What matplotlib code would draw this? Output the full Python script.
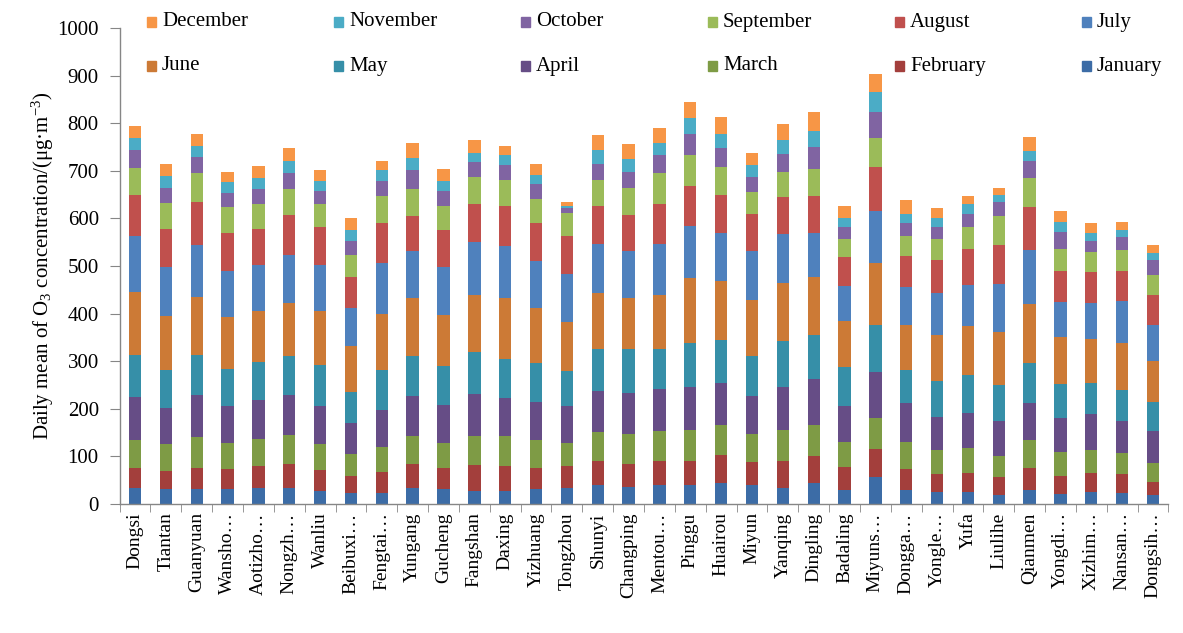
import numpy as np
import matplotlib
matplotlib.use('Agg')
import matplotlib.pyplot as plt
from matplotlib.patches import Rectangle

plt.rcParams['font.family'] = ['Liberation Serif', 'DejaVu Serif']
plt.rcParams['mathtext.fontset'] = 'custom'
plt.rcParams['mathtext.rm'] = 'Liberation Serif'
plt.rcParams['mathtext.it'] = 'Liberation Serif:italic'

# ── Data (monthly mean O3 per station, stacked) ──────────────────────────────
stations = ['Dongsi', 'Tiantan', 'Guanyuan', 'Wansho…', 'Aotizho…', 'Nongzh…',
            'Wanliu', 'Beibuxi…', 'Fengtai…', 'Yungang', 'Gucheng', 'Fangshan',
            'Daxing', 'Yizhuang', 'Tongzhou', 'Shunyi', 'Changping', 'Mentou…',
            'Pinggu', 'Huairou', 'Miyun', 'Yanqing', 'Dingling', 'Badaling',
            'Miyuns…', 'Dongga…', 'Yongle…', 'Yufa', 'Liulihe', 'Qianmen',
            'Yongdi…', 'Xizhim…', 'Nansan…', 'Dongsih…']

jan = [33, 31, 31, 31, 34, 34, 27, 24, 24, 34, 31, 27, 27, 31, 34, 39, 36,
       39, 39, 44, 39, 34, 44, 30, 56, 30, 25, 25, 19, 30, 22, 25, 23, 18]
feb = [43, 39, 45, 43, 45, 51, 44, 35, 44, 51, 45, 55, 52, 45, 45, 52, 49,
       52, 52, 58, 49, 57, 56, 47, 60, 44, 37, 40, 37, 46, 37, 40, 41, 29]
mar = [58, 56, 64, 54, 58, 60, 55, 47, 52, 58, 52, 61, 64, 58, 49, 60, 61,
       63, 65, 64, 58, 65, 66, 54, 64, 57, 52, 52, 44, 58, 50, 49, 44, 39]
apr = [90, 75, 89, 78, 81, 84, 80, 65, 78, 83, 81, 89, 80, 81, 78, 87, 88,
       87, 90, 89, 80, 90, 97, 75, 98, 81, 69, 75, 75, 78, 72, 75, 66, 67]
may = [89, 81, 84, 78, 81, 81, 85, 64, 84, 84, 81, 87, 82, 81, 73, 87, 91,
       84, 93, 90, 84, 96, 93, 81, 98, 69, 76, 78, 75, 84, 72, 66, 66, 61]
jun = [133, 112, 121, 108, 107, 112, 115, 96, 118, 122, 107, 121, 127, 115, 103, 118, 107,
       115, 135, 123, 118, 123, 120, 98, 131, 96, 97, 104, 112, 124, 98, 92, 98, 86]
jul = [118, 104, 110, 98, 97, 102, 97, 80, 107, 99, 101, 110, 110, 99, 102, 104, 99,
       107, 110, 101, 103, 102, 93, 73, 109, 78, 87, 86, 101, 113, 74, 75, 89, 77]
aug = [86, 80, 91, 80, 75, 83, 78, 65, 83, 74, 78, 80, 85, 80, 80, 80, 76,
       83, 85, 81, 79, 77, 78, 60, 91, 66, 69, 75, 81, 91, 65, 65, 63, 61]
sep = [56, 55, 60, 54, 52, 54, 49, 48, 57, 56, 51, 57, 54, 51, 48, 54, 57,
       65, 64, 57, 46, 54, 57, 38, 62, 42, 44, 46, 60, 60, 45, 43, 44, 43]
oct_ = [38, 31, 35, 29, 31, 34, 28, 29, 31, 40, 31, 31, 31, 32, 9, 34, 34,
        38, 45, 40, 31, 37, 46, 25, 55, 27, 25, 29, 31, 37, 37, 23, 26, 32]
nov = [25, 26, 23, 23, 24, 26, 20, 23, 23, 26, 20, 20, 21, 19, 6, 29, 26,
       25, 32, 31, 25, 29, 34, 20, 41, 20, 20, 20, 15, 20, 21, 16, 16, 15]
dec = [26, 25, 25, 22, 25, 26, 23, 25, 20, 31, 26, 27, 20, 23, 8, 32, 32,
       32, 34, 34, 26, 34, 40, 26, 39, 28, 21, 17, 14, 31, 22, 21, 17, 17]

months = ['January', 'February', 'March', 'April', 'May', 'June', 'July',
          'August', 'September', 'October', 'November', 'December']
series = [jan, feb, mar, apr, may, jun, jul, aug, sep, oct_, nov, dec]
colors = ['#3C6CA6', '#A33F3C', '#7E9B45', '#664D86', '#368FA8', '#CC7A36',
          '#4F81BD', '#C0504D', '#9BBB59', '#8064A2', '#4BACC6', '#F79646']

# ── Figure ────────────────────────────────────────────────────────────────────
W, H = 1183, 633
fig = plt.figure(figsize=(W / 100, H / 100), dpi=100)
ax = fig.add_axes([0.1011, 0.2038, 0.8866, 0.752])

x = np.arange(len(stations))
bottom = np.zeros(len(stations))
for vals, col in zip(series, colors):
    ax.bar(x, vals, 0.40, bottom=bottom, color=col, linewidth=0)
    bottom += np.array(vals)

ax.set_xlim(-0.5, len(stations) - 0.5)
ax.set_ylim(0, 1000)
ax.set_yticks(range(0, 1001, 100))

for s in ['top', 'right']:
    ax.spines[s].set_visible(False)
for s in ['left', 'bottom']:
    ax.spines[s].set_color('#868686')
    ax.spines[s].set_linewidth(1.0)

ax.tick_params(axis='y', direction='out', length=7, color='#868686',
               labelsize=15, pad=8)
ax.set_xticks(x)
ax.set_xticklabels(stations, rotation=90, fontsize=14)
ax.set_xticks(np.arange(-0.5, len(stations), 1), minor=True)
ax.tick_params(axis='x', which='major', length=0, pad=6)
ax.tick_params(axis='x', which='minor', direction='out', length=6,
               color='#868686')

ax.set_ylabel('Daily mean of O$_3$ concentration/(μg·m$^{-3}$)', fontsize=15,
              labelpad=1)

# ── Legend (Excel-style grid, 2 rows x 6 columns) ─────────────────────────────
top_row = ['December', 'November', 'October', 'September', 'August', 'July']
bot_row = ['June', 'May', 'April', 'March', 'February', 'January']
col_x = [147 + 187 * i for i in range(6)]
for row_y, names in [(22, top_row), (66, bot_row)]:
    for cx, name in zip(col_x, names):
        c = colors[months.index(name)]
        fig.patches.append(Rectangle((cx / W, 1 - (row_y + 5) / H), 9 / W, 10 / H,
                                     transform=fig.transFigure, color=c))
        fig.text((cx + 15) / W, 1 - row_y / H, name, va='center', ha='left',
                 fontsize=15)

fig.savefig('out.png', dpi=100)
